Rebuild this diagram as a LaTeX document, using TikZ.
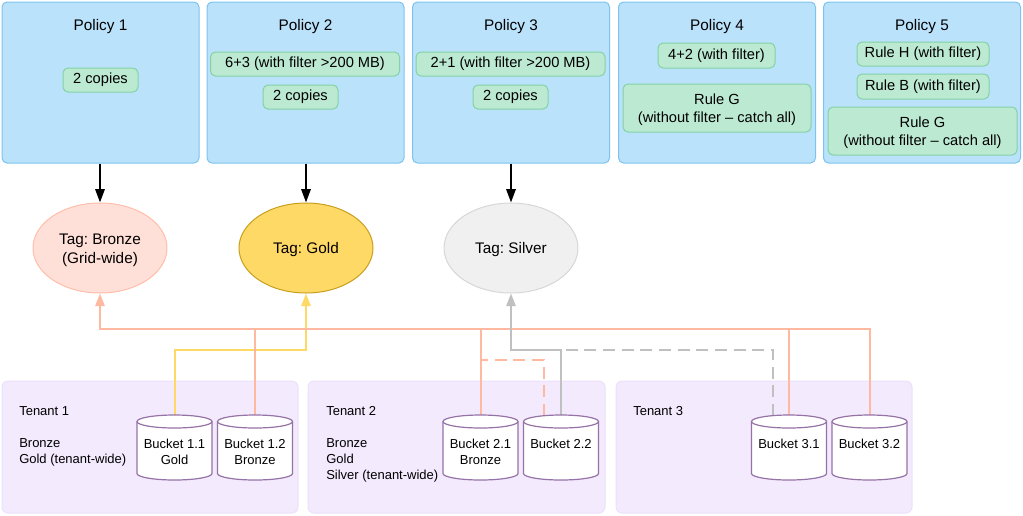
\documentclass[tikz,border=0pt]{standalone}
\usepackage{fontspec}
\setmainfont{Liberation Sans}
\usetikzlibrary{arrows.meta,shapes.geometric,calc}
\definecolor{polfill}{RGB}{187,226,251}
\definecolor{polline}{RGB}{125,195,238}
\definecolor{gfill}{RGB}{188,233,210}
\definecolor{gline}{RGB}{130,210,165}
\definecolor{tenfill}{RGB}{243,234,253}
\definecolor{tenline}{RGB}{236,224,250}
\definecolor{bktline}{RGB}{150,115,166}
\definecolor{bronzefill}{RGB}{255,224,216}
\definecolor{bronzeline}{RGB}{255,190,170}
\definecolor{goldfill}{RGB}{255,217,102}
\definecolor{goldline}{RGB}{200,160,30}
\definecolor{silverfill}{RGB}{240,240,240}
\definecolor{silverline}{RGB}{215,215,215}
\definecolor{bronzewire}{RGB}{255,185,160}
\definecolor{goldwire}{RGB}{255,217,102}
\definecolor{silverwire}{RGB}{192,192,192}
\newcommand{\lowered}[2][1.4pt]{\raisebox{-#1}[\height][\depth]{\begin{tabular}{@{}c@{}}#2\end{tabular}}}
\newcommand{\mkbucket}[3]{%
  \draw[bucketline, fill=white] (#2-37.5,421.5) -- (#2-37.5,473.5)
    arc[start angle=180,end angle=360,x radius=28.125pt,y radius=4.875pt]
    -- (#2+37.5,421.5)
    arc[start angle=0,end angle=180,x radius=28.125pt,y radius=4.875pt] -- cycle;
  \draw[bucketline] (#2-37.5,421.5)
    arc[start angle=180,end angle=360,x radius=28.125pt,y radius=4.875pt];
  \node[btext, anchor=north] (#1) at (#2,438.5) {#3};
}
\frenchspacing
\begin{document}
\begin{tikzpicture}[x=0.75pt,y=-0.75pt,
  policy/.style={draw=polline, fill=polfill, rounded corners=3.75pt, line width=0.75pt,
    minimum width=197*0.75pt, minimum height=161*0.75pt, inner sep=0},
  ptitle/.style={font=\fontsize{11.5}{14}\selectfont, inner sep=0},
  rulebox/.style={draw=gline, fill=gfill, rounded corners=3.75pt, line width=0.75pt,
    font=\fontsize{11}{13.5}\selectfont, align=center, inner sep=0, minimum height=24*0.75pt},
  tag/.style={ellipse, minimum width=134*0.75pt, minimum height=90*0.75pt, line width=0.75pt,
    font=\fontsize{11.5}{14.25}\selectfont, align=center, inner sep=0},
  tenant/.style={fill=tenfill, draw=tenline, line width=0.75pt, rounded corners=4.5pt,
    minimum height=132*0.75pt, inner sep=0},
  ttext/.style={font=\fontsize{9.75}{12}\selectfont, inner sep=0, align=left},
  btext/.style={font=\fontsize{9.75}{12}\selectfont, inner sep=0, align=center},
  bucketline/.style={draw=bktline, line width=0.9pt},
  blkarrow/.style={draw=black, line width=1.5pt, -{Triangle[length=10pt,width=7pt]}},
  wire/.style={line width=1.5pt},
  wirearrow/.style={line width=1.5pt, -{Triangle[length=9.5pt,width=7pt]}},
  dashline/.style={dash pattern=on 9pt off 5pt},
]
\useasboundingbox (0,0) rectangle (1023,515);

% Policies
\node[policy] (p1) at (100.5,82.5) {};
\node[policy] (p2) at (305.5,82.5) {};
\node[policy] (p3) at (511,82.5) {};
\node[policy] (p4) at (717,82.5) {};
\node[policy] (p5) at (922,82.5) {};
\node[ptitle] (p1t) at (100.5,27) {Policy 1};
\node[ptitle] (p2t) at (305.5,27) {Policy 2};
\node[ptitle] (p3t) at (511,27) {Policy 3};
\node[ptitle] (p4t) at (717,27) {Policy 4};
\node[ptitle] (p5t) at (922,27) {Policy 5};

\node[rulebox, minimum width=75*0.75pt] (r1a) at (100.5,80) {2 copies};
\node[rulebox, minimum width=189*0.75pt] (r2a) at (305,64) {6+3 (with filter >200 MB)};
\node[rulebox, minimum width=75*0.75pt] (r2b) at (300.5,97) {2 copies};
\node[rulebox, minimum width=189*0.75pt] (r3a) at (510.5,64) {2+1 (with filter >200 MB)};
\node[rulebox, minimum width=75*0.75pt] (r3b) at (510.5,97) {2 copies};
\node[rulebox, minimum width=117*0.75pt, minimum height=25*0.75pt] (r4a) at (716.5,55.5) {4+2 (with filter)};
\node[rulebox, minimum width=188*0.75pt, minimum height=48*0.75pt] (r4b) at (717,108) {\lowered[1.3pt]{Rule G\\(without filter – catch all)}};
\node[rulebox, minimum width=132*0.75pt] (r5a) at (923,54) {Rule H (with filter)};
\node[rulebox, minimum width=132*0.75pt, minimum height=25*0.75pt] (r5b) at (923,86.5) {Rule B (with filter)};
\node[rulebox, minimum width=189*0.75pt, minimum height=48*0.75pt] (r5c) at (922.5,131) {\lowered[1.3pt]{Rule G\\(without filter – catch all)}};

% Tags
\node[tag, draw=bronzeline, fill=bronzefill] (bronze) at (100,248) {\lowered[1.7pt]{Tag: Bronze\\(Grid-wide)}};
\node[tag, draw=goldline, fill=goldfill] (gold) at (306,248) {\lowered[1.4pt]{Tag: Gold}};
\node[tag, draw=silverline, fill=silverfill] (silver) at (511,248) {\lowered[1.4pt]{Tag: Silver}};

\draw[blkarrow] (p1.south -| bronze.north) -- (bronze.north);
\draw[blkarrow] (p2.south -| gold.north) -- (gold.north);
\draw[blkarrow] (p3.south -| silver.north) -- (silver.north);

% Tenants
\node[tenant, minimum width=296*0.75pt] (t1) at (150,447) {};
\node[tenant, minimum width=297*0.75pt] (t2) at (456.5,447) {};
\node[tenant, minimum width=296*0.75pt] (t3) at (764,447) {};
\node[ttext, anchor=west] (t1n) at (19,411) {Tenant 1};
\node[ttext, anchor=north west] (t1l) at (19,438.5) {Bronze\\Gold (tenant-wide)};
\node[ttext, anchor=west] (t2n) at (326,411) {Tenant 2};
\node[ttext, anchor=north west] (t2l) at (326,438.5) {Bronze\\Gold\\Silver (tenant-wide)};
\node[ttext, anchor=west] (t3n) at (633,411) {Tenant 3};

% Helper coordinates (bucket tops and routing levels)
\coordinate (bus) at (0,329);
\coordinate (gy) at (0,350);
\coordinate (ody) at (0,360);
\coordinate (b22a) at (544,416);
\coordinate (b31a) at (773,416);
\coordinate (b11top) at (174.5,415);
\coordinate (b12top) at (255,415);
\coordinate (b21top) at (480.5,415);
\coordinate (b22top) at (561,415);
\coordinate (b31top) at (789,415);
\coordinate (b32top) at (869.5,415);

% Connectors
\draw[wirearrow, draw=goldwire] (b11top) |- (gy -| gold.south) -- (gold.south);
\draw[wirearrow, draw=bronzewire] (b32top) |- (bus -| bronze.south) -- (bronze.south);
\draw[wire, draw=bronzewire] (b12top) -- (b12top |- bus);
\draw[wire, draw=bronzewire] (b21top) -- (b21top |- bus);
\draw[wire, draw=bronzewire] (b31top) -- (b31top |- bus);
\draw[wire, dashline, draw=bronzewire] (b22a) |- (ody -| b21top);
\draw[wire, dashline, draw=silverwire] (b31a) |- (gy -| b22top);
\draw[wirearrow, draw=silverwire] (b22top) |- (gy -| silver.south) -- (silver.south);

% Buckets
\mkbucket{b11}{174.5}{Bucket 1.1\\Gold}
\mkbucket{b12}{255}{Bucket 1.2\\Bronze}
\mkbucket{b21}{480.5}{Bucket 2.1\\Bronze}
\mkbucket{b22}{561}{Bucket 2.2}
\mkbucket{b31}{789}{Bucket 3.1}
\mkbucket{b32}{869.5}{Bucket 3.2}
\end{tikzpicture}
\end{document}
